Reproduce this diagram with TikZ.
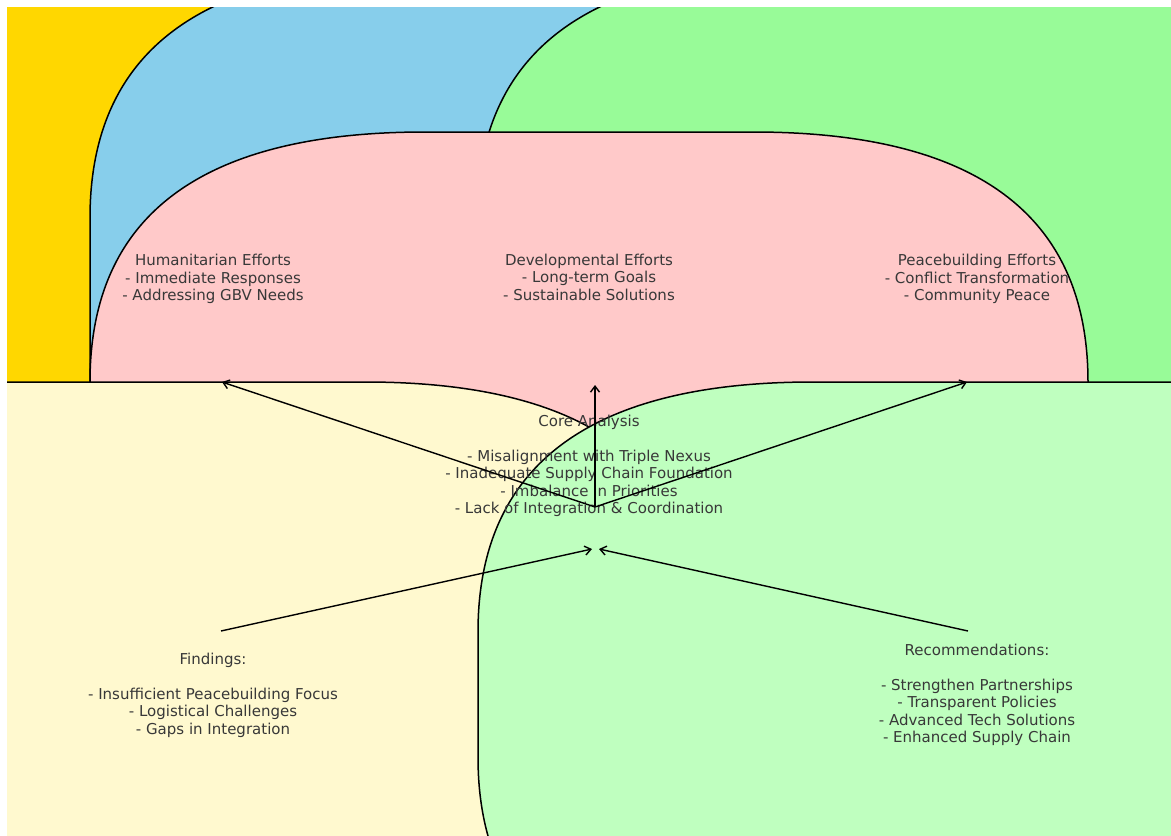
\documentclass[tikz,border=0pt]{standalone}
\usepackage{fontspec}
\setmainfont{DejaVu Sans}
\usetikzlibrary{arrows.meta}
\definecolor{cgold}{HTML}{FFD700}
\definecolor{cblue}{HTML}{87CEEB}
\definecolor{cgreen}{HTML}{98FB98}
\definecolor{cpink}{HTML}{FFC9C9}
\definecolor{cyel}{HTML}{FFF9CF}
\definecolor{clgreen}{HTML}{BFFFBF}
\definecolor{ctext}{HTML}{383838}
\tikzset{
  boxshape/.style={draw=black, line width=1.5pt, line join=round},
  lbl/.style={text=ctext, align=center, inner sep=0pt, font=\fontsize{15}{17.5}\selectfont},
  conn/.style={draw=black, line width=1.4pt, -{Straight Barb[length=6pt,width=9pt,line width=1.4pt]}},
}
\begin{document}
\begin{tikzpicture}[x=1pt,y=-1pt]
\useasboundingbox (0,0) rectangle (1171,836);
\fill[white] (0,0) rectangle (1171,836);
\begin{scope}
\clip (7,7) rectangle (1171,836);
% gold
\fill[cgold] (0,0) rectangle (700,420);
% blue
\path[boxshape, fill=cblue] (90,900) -- (90,218) .. controls (90,51.3) and (201.7,-32) .. (425,-32) -- (900,-32) -- (900,900) -- cycle;
% green
\path[boxshape, fill=cgreen] (477,900) -- (477,218) .. controls (477,51.3) and (588.7,-32) .. (812,-32) -- (1400,-32) -- (1400,900) -- cycle;
% pink
\path[boxshape, fill=cpink] (90,900) -- (90,382) .. controls (90,215.3) and (201.7,132) .. (425,132) -- (753,132) .. controls (976.3,132) and (1088,215.3) .. (1088,382) -- (1088,900) -- cycle;
% light yellow
\path[boxshape, fill=cyel] (-500,382) -- (365,382) .. controls (588.3,382) and (700,465.3) .. (700,632) -- (700,1100) -- (-500,1100) -- cycle;
% light green
\path[boxshape, fill=clgreen] (478,632) .. controls (478,465.3) and (589.7,382) .. (813,382) -- (1400,382) -- (1400,1007) -- (813,1007) .. controls (589.7,1007) and (478,923.7) .. (478,757) -- cycle;
\end{scope}
% texts
\node[lbl] (hum) at (213,279) {Humanitarian Efforts\\- Immediate Responses\\- Addressing GBV Needs};
\node[lbl] (dev) at (589,277) {Developmental Efforts\\- Long-term Goals\\- Sustainable Solutions};
\node[lbl] (peace) at (977,279) {Peacebuilding Efforts\\- Conflict Transformation\\- Community Peace};
\node[lbl] (core) at (589,466) {Core Analysis\\[17.5pt]- Misalignment with Triple Nexus\\- Inadequate Supply Chain Foundation\\- Imbalance in Priorities\\- Lack of Integration \& Coordination};
\node[lbl] (find) at (213,695) {Findings:\\[17.5pt]- Insufficient Peacebuilding Focus\\- Logistical Challenges\\- Gaps in Integration};
\node[lbl] (rec) at (977,695) {Recommendations:\\[17.5pt]- Strengthen Partnerships\\- Transparent Policies\\- Advanced Tech Solutions\\- Enhanced Supply Chain};
% connector anchors
\coordinate (hub) at (595,507);
\coordinate (humend) at (222,382);
\coordinate (devend) at (595,385);
\coordinate (peaceend) at (967,382);
\coordinate (findstart) at (221,631);
\coordinate (recstart) at (968,631);
\coordinate (inL) at (592,549);
\coordinate (inR) at (599,549);
\draw[conn] (hub) -- (humend);
\draw[conn] (hub) -- (devend);
\draw[conn] (hub) -- (peaceend);
\draw[conn] (findstart) -- (inL);
\draw[conn] (recstart) -- (inR);
\end{tikzpicture}
\end{document}
